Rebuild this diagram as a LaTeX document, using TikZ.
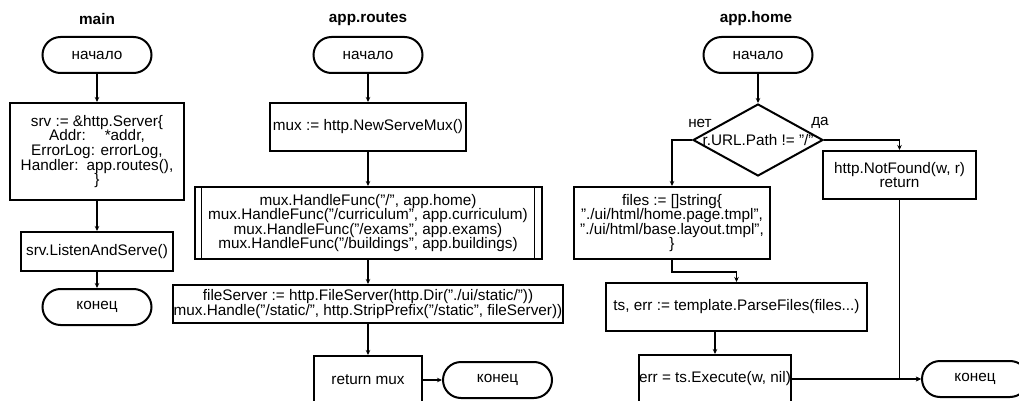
\documentclass[tikz,border=0pt]{standalone}
\usepackage{fontspec}
\setmainfont{Liberation Sans}
\usetikzlibrary{shapes.geometric,arrows.meta}

\tikzset{
  every node/.style={font=\fontsize{15.3}{14.6}\selectfont, inner sep=0pt, align=center},
  term/.style={draw, line width=2pt, rounded corners=18pt, minimum width=109pt, minimum height=36pt},
  proc/.style={draw, line width=2pt, rectangle},
  decision/.style={draw, diamond, line width=2pt, minimum width=130pt, minimum height=72pt},
  heading/.style={font=\fontsize{15.3}{15}\selectfont\bfseries},
  arr/.style={line width=1.5pt, -{Stealth[length=5pt,width=4.5pt]}},
  link/.style={line width=1.5pt}
}

\begin{document}
\begin{tikzpicture}[x=1pt, y=-1pt]
  \useasboundingbox (0,0) rectangle (1019,401);

  % main
  \node[heading] (t-main) at (97,19) {main};
  \node[term] (m-start) at (97,55) {начало};
  \node[proc, minimum width=174pt, minimum height=97pt] (m-srv) at (97,151.5)
    {srv := \&http.Server\{\\ Addr:\hspace{19pt}*addr,\\ ErrorLog: errorLog,\\ Handler:\hspace{8pt}app.routes(),\\ \}};
  \node[proc, minimum width=152pt, minimum height=39pt] (m-listen) at (97,251.5) {srv.ListenAndServe()};
  \node[term] (m-end) at (97,307) {конец};

  \draw[arr] (m-start) -- (m-srv);
  \draw[arr] (m-srv) -- (m-listen);
  \draw[arr] (m-listen) -- (m-end);

  % app.routes
  \node[heading] (t-routes) at (368,19) {app.routes};
  \node[term] (r-start) at (368,55) {начало};
  \node[proc, minimum width=196pt, minimum height=48pt] (r-mux) at (368,127) {mux := http.NewServeMux()};
  \node[proc, minimum width=347pt, minimum height=72pt] (r-handle) at (368,223)
    {mux.HandleFunc("/", app.home)\\ mux.HandleFunc("/curriculum", app.curriculum)\\
     mux.HandleFunc("/exams", app.exams)\\ mux.HandleFunc("/buildings", app.buildings)};
  \draw[line width=1pt] ([xshift=8pt]r-handle.north west) -- ([xshift=8pt]r-handle.south west);
  \draw[line width=1pt] ([xshift=-8pt]r-handle.north east) -- ([xshift=-8pt]r-handle.south east);
  \node[proc, minimum width=390pt, minimum height=38pt] (r-files) at (368,304)
    {fileServer := http.FileServer(http.Dir("./ui/static/"))\\ mux.Handle("/static/", http.StripPrefix("/static", fileServer))};
  \node[proc, minimum width=108pt, minimum height=48pt] (r-ret) at (368,380) {return mux};
  \node[term] (r-end) at (497.5,380) {конец};

  \draw[arr] (r-start) -- (r-mux);
  \draw[arr] (r-mux) -- (r-handle);
  \draw[arr] (r-handle) -- (r-files);
  \draw[arr] (r-files) -- (r-ret);
  \draw[arr] (r-ret) -- (r-end);

  % app.home
  \node[heading] (t-home) at (756,19) {app.home};
  \node[term] (h-start) at (758,55) {начало};
  \node[decision] (h-cond) at (758,140) {};
  \node (h-condtext) at (h-cond) {r.URL.Path != "/"};
  \node (h-no) at (700,123) {нет};
  \node (h-yes) at (820,123) {да};
  \node[proc, minimum width=196pt, minimum height=72pt] (h-files) at (672,223)
    {files := []string\{\\ "./ui/html/home.page.tmpl",\\ "./ui/html/base.layout.tmpl",\\ \}};
  \node[proc, minimum width=153pt, minimum height=48pt] (h-notfound) at (899.5,175) {http.NotFound(w, r)\\ return};
  \node[proc, minimum width=261pt, minimum height=48pt] (h-parse) at (736.5,307) {ts, err := template.ParseFiles(files...)};
  \node[proc, minimum width=152pt, minimum height=48pt] (h-exec) at (715,379) {err = ts.Execute(w, nil)};
  \node[term, minimum width=106pt] (h-end) at (975,379) {конец};

  \draw[arr] (h-start) -- (h-cond);
  \draw[arr] (h-cond.west) -| (h-files.north);
  \draw[arr] (h-cond.east) -| (h-notfound.north);
  \draw[arr] (h-files.south) -- ++(0,12) -| (h-parse.north);
  \draw[arr] (h-exec.north |- h-parse.south) -- (h-exec.north);
  \draw[arr] (h-exec) -- (h-end);
  \draw[arr] (h-notfound.south) |- (h-end.west);
\end{tikzpicture}
\end{document}
